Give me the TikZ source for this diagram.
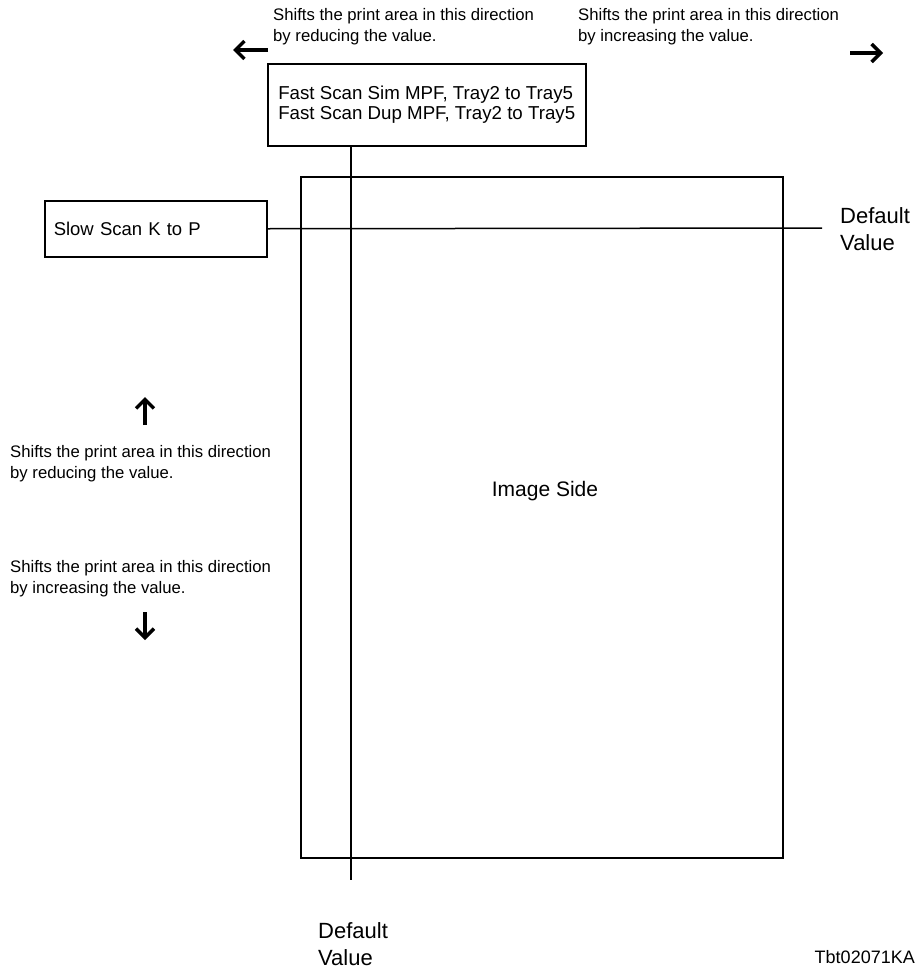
\documentclass[tikz,border=0pt]{standalone}
\usepackage{fontspec}
\setmainfont{Liberation Sans}
\usetikzlibrary{arrows.meta}
\begin{document}
\begin{tikzpicture}[x=1pt,y=-1pt,
  lbl/.style={inner sep=0pt, align=left, font=\fontsize{16.7}{21}\selectfont},
  boxlbl/.style={draw, line width=1.5pt, align=left, inner ysep=0pt},
  deflbl/.style={inner sep=0pt, align=left, font=\fontsize{22}{27}\selectfont},
  thinln/.style={line width=1.5pt},
  bigarrow/.style={line width=3.5pt, -{Straight Barb[length=9pt,width=18pt,line width=3.5pt]}}]
\useasboundingbox (0,0) rectangle (920,972);
% page
\node[draw, line width=2pt, minimum width=482pt, minimum height=681pt, anchor=north west, inner sep=0pt] (page) at (300,176) {};
\node[inner sep=0pt, font=\fontsize{21}{25}\selectfont] (side) at (545,491) {Image Side};
% boxes
\node[boxlbl, anchor=north west, minimum width=318pt, minimum height=82pt, inner xsep=2pt, font=\fontsize{18.7}{19.5}\selectfont] (fast) at (267,63) {Fast Scan Sim MPF, Tray2 to Tray5\\Fast Scan Dup MPF, Tray2 to Tray5};
\node[boxlbl, anchor=north west, minimum width=222pt, minimum height=56pt, text width=204pt, inner xsep=9pt, font=\fontsize{18.5}{19}\selectfont] (slow) at (44,200) {Slow Scan K to P};
% reference lines
\coordinate (vb) at (351,880);
\coordinate (hr) at (822,228);
\draw[thinln] (vb |- fast.south) -- (vb);
\draw[thinln] (slow.east) -- (hr);
% default value labels
\node[deflbl, anchor=west] (defr) at (840,229) {Default\\Value};
\node[deflbl, anchor=west] (defb) at (318,944) {Default\\Value};
\node[inner sep=0pt, anchor=base east, font=\fontsize{18}{20}\selectfont] (code) at (915,963) {Tbt02071KA};
% direction texts
\node[lbl, anchor=west] (tl) at (273,27) {Shifts the print area in this direction\\by reducing the value.};
\node[lbl, anchor=west] (tr) at (578,27) {Shifts the print area in this direction\\by increasing the value.};
\node[lbl, anchor=west] (lu) at (10,464) {Shifts the print area in this direction\\by reducing the value.};
\node[lbl, anchor=west] (ld) at (10,579) {Shifts the print area in this direction\\by increasing the value.};
% arrows
\coordinate (a1s) at (268,50); \coordinate (a1e) at (233,50);
\coordinate (a2s) at (850,53); \coordinate (a2e) at (883,53);
\coordinate (a3s) at (145,425); \coordinate (a3e) at (145,397);
\coordinate (a4s) at (145,612); \coordinate (a4e) at (145,640);
\draw[bigarrow] (a1s) -- (a1e);
\draw[bigarrow] (a2s) -- (a2e);
\draw[bigarrow] (a3s) -- (a3e);
\draw[bigarrow] (a4s) -- (a4e);
\end{tikzpicture}
\end{document}
